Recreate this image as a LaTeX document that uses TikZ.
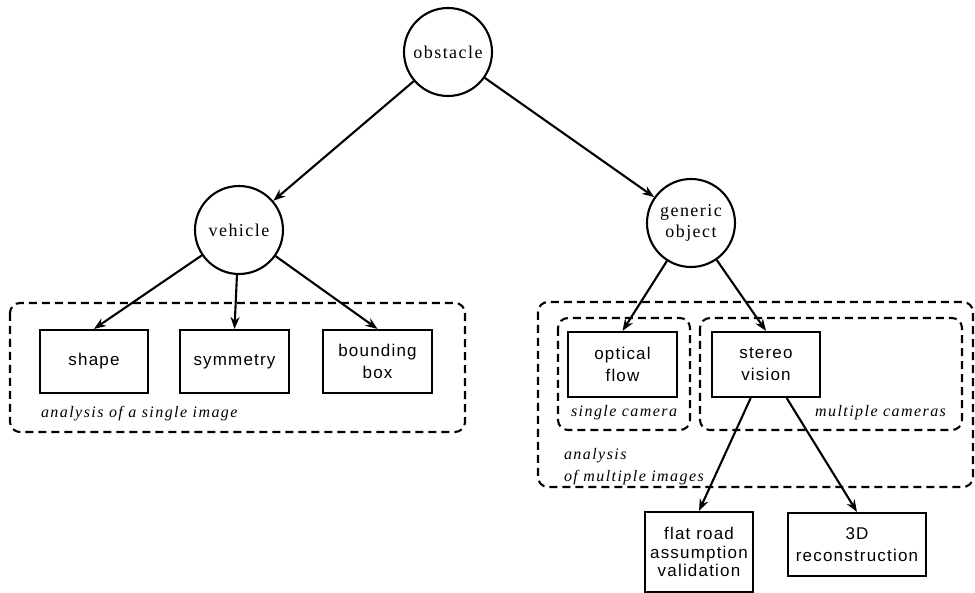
\documentclass[tikz,border=0pt]{standalone}
\usepackage{fontspec}
\setmainfont{Liberation Serif}
\newfontfamily\boxfont[LetterSpace=7]{Liberation Sans}
\newfontfamily\circfont[LetterSpace=8]{Liberation Serif}
\newfontfamily\notefont[LetterSpace=9]{Liberation Serif}
\usetikzlibrary{arrows.meta}
\begin{document}
\begin{tikzpicture}[x=1pt,y=-1pt,line width=2.1pt,
  >={Stealth[length=12pt,width=9pt]},
  circ/.style={draw,circle,minimum size=88pt,inner sep=0pt,align=center,
    font=\circfont\fontsize{18}{21}\selectfont},
  method/.style={draw,rectangle,inner sep=0pt,align=center,
    font=\boxfont\fontsize{17}{22}\selectfont},
  group/.style={draw,dash pattern=on 8pt off 5pt,rounded corners=10pt},
  note/.style={inner sep=0pt,font=\notefont\itshape\fontsize{16}{22}\selectfont}]
\useasboundingbox (0,0) rectangle (975,593);
% dashed groups
\draw[group] (10,303) rectangle (465,432);
\draw[group] (538,302) rectangle (973,487);
\draw[group] (558,318) rectangle (690,430);
\draw[group] (700,318) rectangle (962,430);
% circles
\node[circ] (obstacle) at (448,52) {obstacle};
\node[circ] (vehicle) at (239,230) {vehicle};
\node[circ] (generic) at (691,223) {generic\\object};
% boxes
\node[method,minimum width=108pt,minimum height=63pt] (shape) at (94,361.5) {shape};
\node[method,minimum width=109pt,minimum height=63pt] (symmetry) at (234.5,361.5) {symmetry};
\node[method,minimum width=109pt,minimum height=63pt] (bbox) at (377.5,361.5) {bounding\\box};
\node[method,minimum width=109pt,minimum height=65pt] (optical) at (622.5,364.5) {optical\\flow};
\node[method,minimum width=108pt,minimum height=65pt] (stereo) at (766,364.5) {stereo\\vision};
\node[method,minimum width=108pt,minimum height=80pt,
  font=\boxfont\fontsize{17}{18.5}\selectfont] (flatroad) at (699,552) {flat road\\assumption\\validation};
\node[method,minimum width=138pt,minimum height=63pt] (recon) at (857,544.5) {3D\\reconstruction};
% labels
\node[note,anchor=base west] (single) at (40,418) {analysis of a single image};
\node[note,anchor=base west] (onecam) at (570,417) {single camera};
\node[note,anchor=base east] (multicam) at (947,417) {multiple cameras};
\node[note,anchor=base west,align=left] (multiple) at (563,482) {analysis\\of multiple images};
% arrows
\draw [->] (obstacle) to (vehicle);
\draw [->] (obstacle) to (generic);
\draw [->] (vehicle) to (shape.north);
\draw [->] (vehicle) to (symmetry.north);
\draw [->] (vehicle) to (bbox.north);
\draw [->] (generic) to (optical.north);
\draw [->] (generic) to (stereo.north);
\draw [->] (stereo) to (flatroad.north);
\draw [->] (stereo) to (recon.north);
\end{tikzpicture}
\end{document}
